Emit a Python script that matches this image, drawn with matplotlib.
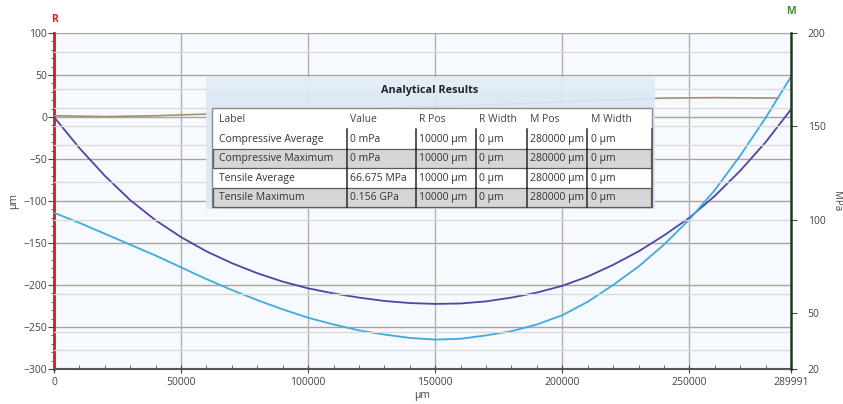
import matplotlib
matplotlib.use('Agg')
import matplotlib.pyplot as plt
from matplotlib.patches import Rectangle
from matplotlib.ticker import MultipleLocator

# --- data ---
x_pos = [0, 10000, 20000, 30000, 40000, 50000, 60000, 70000, 80000, 90000,
         100000, 110000, 120000, 130000, 140000, 150000, 160000, 170000, 180000,
         190000, 200000, 210000, 220000, 230000, 240000, 250000, 260000, 270000,
         280000, 289991]
purple_um = [0, -37, -70, -99, -123, -143, -160, -174, -186, -196,
             -204, -210, -215, -219, -221.5, -222.5, -222, -219.5, -215,
             -209, -201, -190, -176, -160, -141, -120, -94, -64,
             -30, 9]
cyan_um = [-114, -126, -139, -152, -165, -179, -193, -206, -218, -229,
           -239, -247, -254, -259, -263, -265, -264, -260, -255,
           -247, -236, -220, -200, -178, -152, -122, -87, -46,
           -1, 48]
brown_x = [0, 20000, 40000, 60000, 80000, 100000, 120000, 140000, 160000,
           180000, 200000, 220000, 240000, 260000, 285000]
brown_um = [1.5, 0.5, 1.5, 3.5, 5.5, 7.5, 9.5, 11.5, 13.5, 15.5, 18, 20.5, 22.5, 23, 22.5]

x_ticks = [0, 50000, 100000, 150000, 200000, 250000, 289991]
left_ticks = [-300, -250, -200, -150, -100, -50, 0, 50, 100]
right_ticks = [20, 50, 100, 150, 200]
right_grid = [30, 40, 60, 100, 120, 140, 150, 160, 170, 190]

table_title = "Analytical Results"
table_header = ["Label", "Value", "R Pos", "R Width", "M Pos", "M Width"]
table_rows = [
    ["Compressive Average", "0 mPa", "10000 \u00b5m", "0 \u00b5m", "280000 \u00b5m", "0 \u00b5m"],
    ["Compressive Maximum", "0 mPa", "10000 \u00b5m", "0 \u00b5m", "280000 \u00b5m", "0 \u00b5m"],
    ["Tensile Average", "66.675 MPa", "10000 \u00b5m", "0 \u00b5m", "280000 \u00b5m", "0 \u00b5m"],
    ["Tensile Maximum", "0.156 GPa", "10000 \u00b5m", "0 \u00b5m", "280000 \u00b5m", "0 \u00b5m"],
]

plt.rcParams['font.family'] = ['Open Sans', 'DejaVu Sans']
W, H = 843, 404
fig = plt.figure(figsize=(W / 100, H / 100), dpi=100)
fig.patch.set_facecolor('white')

ax = fig.add_axes([54 / W, 1 - 369 / H, (791 - 54) / W, (369 - 33) / H])
ax.set_facecolor('#f6f9fd')
ax.set_xlim(0, 289991)
ax.set_ylim(-300, 100)

# right axis
ax2 = ax.twinx()
ax2.set_ylim(20, 200)
ax2.set_yticks(right_ticks)
for v in right_grid:
    ax2.axhline(v, color='#dcd8d4', lw=0.9, zorder=0)

# grid
for v in left_ticks:
    ax.axhline(v, color='#aaa39b', lw=1.0, zorder=1)
for v in x_ticks[:-1]:
    ax.axvline(v, color='#b4b0ac', lw=1.0, zorder=1)

ax.plot(brown_x, brown_um, color='#a8906c', lw=1.2, zorder=3)
ax.plot(x_pos, purple_um, color='#5046a2', lw=1.3, zorder=4)
ax.plot(x_pos, cyan_um, color='#3eaadd', lw=1.3, zorder=4)

ax.set_xticks(x_ticks)
ax.set_xticklabels([str(t) for t in x_ticks])
ax.set_yticks(left_ticks)
ax.xaxis.set_minor_locator(MultipleLocator(10000))
ax.yaxis.set_minor_locator(MultipleLocator(10))
ax.tick_params(axis='x', which='major', direction='inout', length=6, labelsize=7.5,
               colors='#444444', pad=3)
ax.tick_params(axis='x', which='minor', direction='in', length=3, color='#555555')
ax.tick_params(axis='y', which='major', direction='out', length=4, labelsize=7.5,
               colors='#444444', pad=1)
ax.tick_params(axis='y', which='minor', direction='out', length=2, color='#555555')
ax2.tick_params(axis='y', direction='out', length=4, labelsize=7.5, colors='#444444', pad=8)

for a in (ax, ax2):
    a.spines['top'].set_visible(False)
ax.spines['left'].set_color('#cc1f1f')
ax.spines['left'].set_linewidth(2.0)
ax.spines['bottom'].set_color('#555555')
ax.spines['bottom'].set_linewidth(1.5)
ax2.spines['left'].set_visible(False)
ax2.spines['bottom'].set_visible(False)
ax2.spines['right'].set_color('#1e3a1e')
ax2.spines['right'].set_linewidth(1.8)
ax.spines['right'].set_visible(False)

ax.set_xlabel('\u00b5m', fontsize=7.5, color='#444444', labelpad=1)
ax.set_ylabel('\u00b5m', fontsize=7.5, color='#444444', labelpad=3)
ax2.set_ylabel('MPa', fontsize=7, color='#444444', rotation=-90, labelpad=12)

# axis markers
fig.text(54 / W, 1 - 20 / H, 'R', color='#e0201c', fontsize=7.5, fontweight='bold',
         ha='center', va='center')
fig.text(791 / W, 1 - 12 / H, 'M', color='#3c8c2c', fontsize=7.5, fontweight='bold',
         ha='center', va='center')

# --- results table overlay in pixel coordinates ---
ov = fig.add_axes([0, 0, 1, 1], zorder=10)
ov.set_xlim(0, W)
ov.set_ylim(H, 0)
ov.axis('off')
ov.patch.set_alpha(0)

ov.add_patch(Rectangle((206, 77), 449, 132, facecolor='#dce8f5', edgecolor='none', alpha=0.92))
ov.add_patch(Rectangle((206, 77), 449, 14, facecolor='#e8f0f9', edgecolor='none', alpha=0.6))
ov.text(430, 90, table_title, fontsize=7.8, fontweight='bold', color='#222222',
        ha='center', va='center')

tx0, tx1, ty0 = 212, 652, 108
row_h = 19.5
ov.add_patch(Rectangle((tx0, ty0), tx1 - tx0, 21 + row_h * len(table_rows),
                       facecolor='white', edgecolor='#8c8c8c', lw=1.0))
col_text_x = [219, 350, 419, 479, 530, 591]
col_sep_x = [346.5, 416, 476, 527, 587]
for j, h in enumerate(table_header):
    ov.text(col_text_x[j], ty0 + 11, h, fontsize=7.5, color='#444444', va='center', ha='left')
for i, row in enumerate(table_rows):
    y0 = ty0 + 21 + i * row_h
    if i % 2 == 1:
        ov.add_patch(Rectangle((tx0 + 1, y0), tx1 - tx0 - 2, row_h,
                               facecolor='#d6d6d6', edgecolor='#5a5a5a', lw=0.9))
    for j, cell in enumerate(row):
        ov.text(col_text_x[j], y0 + row_h / 2 + 0.5, cell, fontsize=7.5, color='#333333',
                va='center', ha='left')
    for xs in col_sep_x:
        ov.plot([xs, xs], [y0, y0 + row_h], color='#2a2a2a', lw=1.1)
ov.plot([tx1, tx1], [ty0 + 21, ty0 + 21 + row_h * len(table_rows)], color='#555555', lw=1.2)

fig.savefig('out.png', dpi=100)
